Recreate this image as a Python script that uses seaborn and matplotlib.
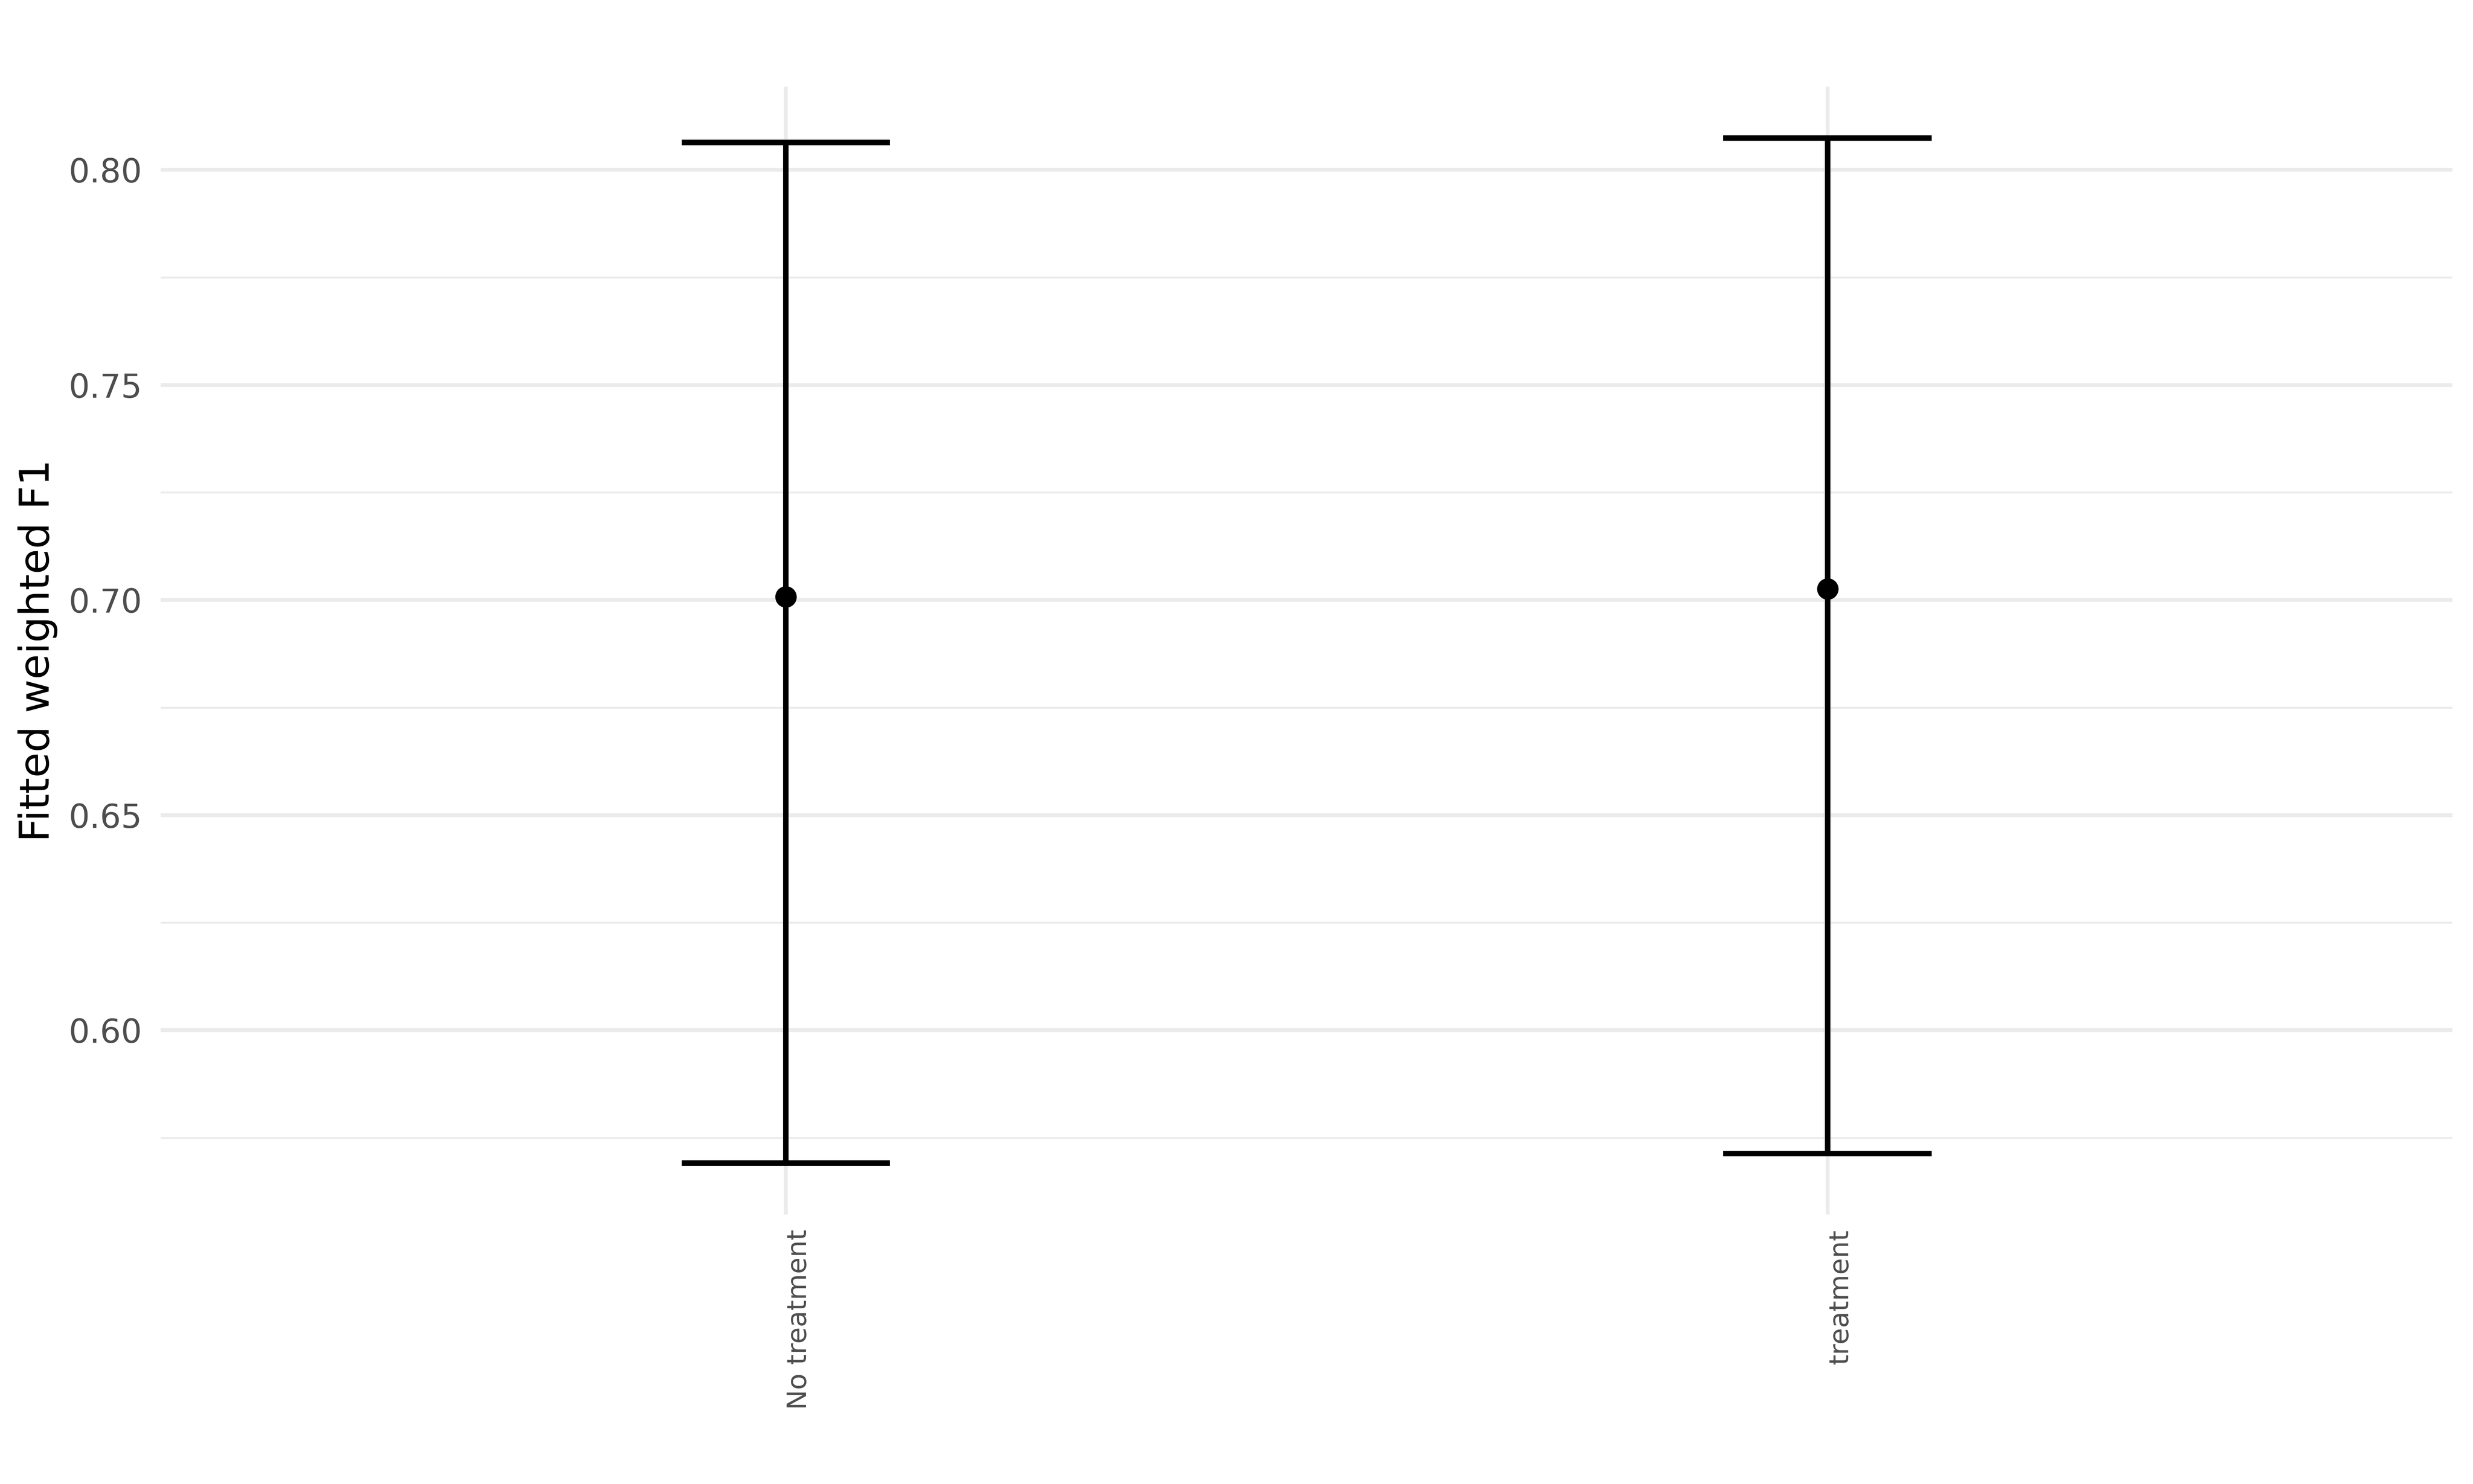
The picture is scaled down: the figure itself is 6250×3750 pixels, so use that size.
import numpy as np
import pandas as pd
import seaborn as sns
import matplotlib.pyplot as plt
from matplotlib.ticker import MultipleLocator, FormatStrFormatter

# values
groups = ["No treatment", "treatment"]
fitted = [0.7007, 0.7026]
lower = [0.5691, 0.5713]
upper = [0.8063, 0.8074]


def getData():
    # three rows per group (lower, fit, upper): median -> fit, min/max -> interval
    data = {"group": [], "value": []}
    for g, lo, m, hi in zip(groups, lower, fitted, upper):
        for v in (lo, m, hi):
            data["group"].append(g)
            data["value"].append(v)
    return pd.DataFrame(data)


sns.set_theme(style="white")
plt.rcParams['font.family'] = ['DejaVu Sans']

fig = plt.figure(figsize=(12.5, 7.5))
ax = fig.add_subplot(111)

df = getData()
sns.pointplot(data=df, x="group", y="value", order=groups,
              estimator="median", errorbar=lambda v: (v.min(), v.max()),
              capsize=0.2, linestyle="none", color="black",
              markersize=7.8, markeredgewidth=0,
              err_kws={"linewidth": 2.0, "color": "black",
                       "solid_capstyle": "butt", "solid_joinstyle": "miter"},
              ax=ax)

# ggplot-like expansion
ax.set_xlim(-0.6, len(groups) - 1 + 0.6)
span = max(upper) - min(lower)
ax.set_ylim(min(lower) - 0.05 * span, max(upper) + 0.05 * span)

ax.yaxis.set_major_locator(MultipleLocator(0.05))
ax.yaxis.set_minor_locator(MultipleLocator(0.025))
ax.yaxis.set_major_formatter(FormatStrFormatter('%.2f'))

ax.set_axisbelow(True)
ax.grid(which='major', axis='both', color='#EBEBEB', linewidth=1.4)
ax.grid(which='minor', axis='y', color='#EBEBEB', linewidth=0.7)
for spine in ax.spines.values():
    spine.set_visible(False)

ax.tick_params(axis='both', which='both', length=0)
ax.tick_params(axis='y', labelsize=12, labelcolor='#4D4D4D', pad=6.8)
ax.tick_params(axis='x', labelsize=9.8, labelcolor='#4D4D4D', pad=5.5)
for label in ax.get_xticklabels():
    label.set_rotation(90)
    label.set_ha('left')
    label.set_va('top')

ax.set_xlabel('')
ax.set_ylabel('Fitted weighted F1', fontsize=15, color='black', labelpad=4)

plt.subplots_adjust(left=0.065, right=0.9917, top=0.9416, bottom=0.1817)
fig.savefig("out.png", dpi=500, facecolor='white')
